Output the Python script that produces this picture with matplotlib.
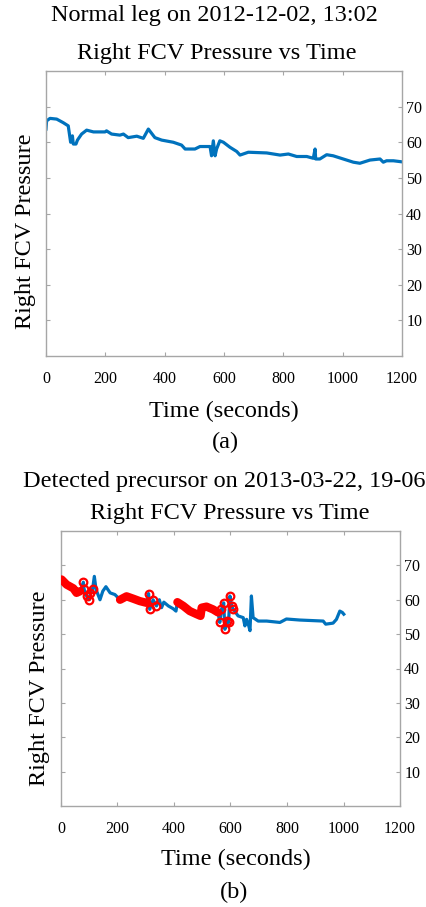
import numpy as np
import matplotlib
matplotlib.use('Agg')
import matplotlib.pyplot as plt

plt.rcParams['font.family'] = ['Liberation Serif', 'DejaVu Serif']

# (a) normal leg, 2012-12-02 13:02
time_a = [0, 2, 13.5, 36, 58, 75, 83, 89, 92, 101, 106, 120, 137, 160, 199, 204,
          221, 249, 261, 277, 306, 328, 345, 367, 390, 429, 457, 469, 502, 519,
          553, 558, 564, 570, 575, 586, 598, 620, 643, 654, 682, 744, 789, 817,
          845, 879, 901, 907, 909, 923, 946, 968, 1002, 1036, 1058, 1092, 1126,
          1137, 1148, 1171, 1200]
press_a = [63.7, 66, 66.7, 66.5, 65.5, 64.6, 60, 61.8, 59.5, 59.5, 60.6, 62.3,
           63.4, 62.9, 62.9, 63.2, 62.3, 62, 62.3, 61.3, 61.7, 61.1, 63.7, 61.3,
           60.6, 60, 59.2, 58.1, 58.1, 58.8, 58.8, 56.2, 60.4, 56.2, 58.1, 60.4,
           60, 58.6, 57.4, 56.4, 57.2, 57, 56.4, 56.7, 56, 56, 55.5, 58.1, 55.3,
           55.3, 56.5, 56.2, 55.3, 54.4, 54.1, 55, 55.3, 54.4, 54.8, 54.8, 54.5]

# (b) detected precursor, 2013-03-22 19-06
time_b = [2, 20, 44, 55, 68, 79, 82, 91, 100, 104, 112, 118, 124, 138, 148, 159,
          174, 191, 209, 232, 256, 279, 303, 310, 314, 326, 338, 348, 356, 364,
          380, 397, 407, 412, 433, 456, 480, 494, 498, 515, 538, 556, 562, 568,
          576, 580, 586, 593, 598, 604, 610, 627, 645, 651, 657, 663, 669, 674,
          680, 698, 728, 775, 798, 845, 928, 937, 963, 975, 987, 996, 1001]
press_b = [65.9, 64.4, 63.3, 62, 62.5, 65.1, 63, 61, 60, 62, 63.2, 66.8, 63, 60,
           62.5, 63.8, 62, 61.5, 60, 61, 60.3, 59.6, 59.1, 61.8, 57.2, 60, 58.2,
           60, 57.7, 59.3, 58.2, 57.4, 56.7, 59.3, 58.2, 56.7, 55.8, 55.3, 57.7,
           58, 57.2, 56.3, 53.4, 57.2, 59.1, 51.4, 53.8, 53.4, 61.1, 58.2, 57.2,
           55.3, 54.8, 52.4, 54.3, 52.9, 51, 61.1, 54.8, 53.8, 53.8, 53.4, 54.4,
           54.1, 53.8, 52.9, 53.2, 54.3, 56.7, 56.3, 55.8]

# detected windows (seconds)
detect_windows = [(0, 115), (205, 340), (410, 612)]
dense_windows = [(0, 75), (205, 305), (410, 556)]

xticks = [0, 200, 400, 600, 800, 1000, 1200]
yticks = [10, 20, 30, 40, 50, 60, 70]

W, H = 427, 907
fig = plt.figure(figsize=(W / 100, H / 100), dpi=100)


def fx(x):
    return x / W


def fy(y):
    return 1 - y / H


def in_windows(t, windows):
    t = np.asarray(t)
    m = np.zeros(len(t), dtype=bool)
    for a, b in windows:
        m |= (t >= a) & (t <= b)
    return m


def style_axes(ax):
    ax.set_xlim(0, 1200)
    ax.set_ylim(0, 80)
    ax.set_xticks(xticks)
    ax.set_yticks(yticks)
    for s in ax.spines.values():
        s.set_color('#a6a6a6')
        s.set_linewidth(1.0)
    ax.tick_params(direction='in', length=3, width=0.8, color='#a6a6a6',
                   top=True, right=True, left=True, bottom=True,
                   labelleft=False, labelright=True, labelsize=11.5)
    ax.tick_params(axis='x', pad=11)
    ax.tick_params(axis='y', pad=3)


blue = '#0072BD'

# ---- panel (a)
ax1 = fig.add_axes([fx(46), fy(356), fx(356), 285 / H])
ax1.plot(time_a, press_a, color=blue, lw=2.3)
style_axes(ax1)
ax1.set_ylabel('Right FCV Pressure', fontsize=17.5, va='center')
ax1.yaxis.set_label_coords((25.5 - 46) / 356, 1 - (231 - 71) / 285)

fig.text(fx(214), fy(15), 'Normal leg on 2012-12-02, 13:02', ha='center', va='center', fontsize=17.5)
fig.text(fx(217), fy(53), 'Right FCV Pressure vs Time', ha='center', va='center', fontsize=17.5)
fig.text(fx(224), fy(411), 'Time (seconds)', ha='center', va='center', fontsize=17.5)
fig.text(fx(225), fy(442), '(a)', ha='center', va='center', fontsize=17.5)

# ---- panel (b)
ax2 = fig.add_axes([fx(61), fy(806), fx(339), 275 / H])
ax2.plot(time_b, press_b, color=blue, lw=2.3, zorder=2)

tb = np.array(time_b, dtype=float)
pb = np.array(press_b, dtype=float)
dense_mask = in_windows(tb, dense_windows)
dense = np.where(dense_mask, pb, np.nan)
sparse = in_windows(tb, detect_windows) & ~dense_mask
ax2.plot(tb, dense, color='red', lw=6, solid_capstyle='round',
         solid_joinstyle='round', zorder=3)
ax2.plot(tb[sparse], pb[sparse], ls='none', marker='o', ms=5.5, mfc='none',
         mec='red', mew=1.6, zorder=4)
style_axes(ax2)
ax2.set_ylabel('Right FCV Pressure', fontsize=17.5, va='center')
ax2.yaxis.set_label_coords((40 - 61) / 339, 1 - (688 - 531) / 275)

fig.text(fx(224), fy(482), 'Detected precursor on 2013-03-22, 19-06', ha='center', va='center', fontsize=17.5)
fig.text(fx(230), fy(514), 'Right FCV Pressure vs Time', ha='center', va='center', fontsize=17.5)
fig.text(fx(236), fy(859), 'Time (seconds)', ha='center', va='center', fontsize=17.5)
fig.text(fx(234), fy(892), '(b)', ha='center', va='center', fontsize=17.5)

fig.savefig('out.png', dpi=100)
